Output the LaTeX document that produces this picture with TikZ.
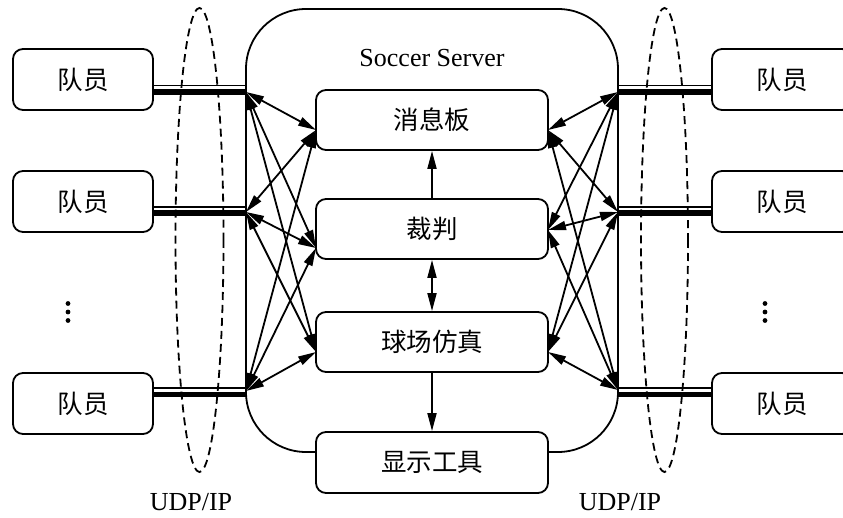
\documentclass[tikz,border=0pt]{standalone}
\usepackage{fontspec}
\setmainfont{Liberation Serif}
\newfontfamily\cjk{Noto Sans CJK SC}
\usetikzlibrary{arrows.meta,calc}
\begin{document}
\begin{tikzpicture}[x=1pt,y=-1pt,
  box/.style={draw,line width=1.8pt,rounded corners=10pt,minimum width=140pt,minimum height=61pt,
    font=\cjk\fontsize{25.5}{25.5}\selectfont,fill=white,inner sep=0pt},
  inbox/.style={box,minimum width=232pt,minimum height=60pt},
  lbl/.style={font=\fontsize{26}{26}\selectfont,inner sep=0pt},
  arr/.style={line width=1.8pt,{Triangle[length=18pt,width=9pt]}-{Triangle[length=18pt,width=9pt]}},
  arrone/.style={line width=1.8pt,-{Triangle[length=18pt,width=9pt]}},
  thinlink/.style={line width=1.8pt},
  thicklink/.style={line width=5.5pt},
  udp/.style={line width=1.8pt,dash pattern=on 8pt off 5pt},
  dotmark/.style={fill=black}
]
\useasboundingbox (0,0) rectangle (843,518);
\clip (0,0) rectangle (843,518);

% server outline
\node[draw,line width=1.8pt,rounded corners=60pt,minimum width=372pt,minimum height=443pt,inner sep=0pt] (server) at (432,230.5) {};
\node[lbl] (title) at (432,58) {Soccer Server};

% inner boxes
\node[inbox] (msg) at (432,120) {消息板};
\node[inbox] (judge) at (432,229) {裁判};
\node[inbox] (field) at (432,342) {球场仿真};
\node[inbox,minimum height=61pt] (disp) at (432,462.5) {显示工具};

\draw[arrone] (judge.north) -- (msg.south);
\draw[arr] (judge.south) -- (field.north);
\draw[arrone] (field.south) -- (disp.north);

% convergence points
\coordinate (mL) at (316,130);
\coordinate (jL) at (316,248);
\coordinate (fL) at (316,352);
\coordinate (mR) at (548,130);
\coordinate (jR) at (548,230);
\coordinate (fR) at (548,352);
% ports
\coordinate (pL1) at (246,92);
\coordinate (pL2) at (246,212);
\coordinate (pL3) at (246,391);
\coordinate (pR1) at (618,92);
\coordinate (pR2) at (618,212);
\coordinate (pR3) at (618,390);

\foreach \p in {pL1,pL2,pL3}{
  \foreach \t in {mL,jL,fL}{
    \draw[arr] (\p) -- (\t);
  }
}
\foreach \p in {pR1,pR2,pR3}{
  \foreach \t in {mR,jR,fR}{
    \draw[arr] (\p) -- (\t);
  }
}

% players
\node[box] (a1) at (83,79.5) {队员};
\node[box] (a2) at (83,201.5) {队员};
\node[box] (a3) at (83,403.5) {队员};
\node[box] (b1) at (782,79.5) {队员};
\node[box] (b2) at (782,201.5) {队员};
\node[box] (b3) at (782,403.5) {队员};

% links
\coordinate (tL1) at (246,85.5);  \coordinate (kL1) at (246,92);
\coordinate (tL2) at (246,206.7); \coordinate (kL2) at (246,213);
\coordinate (tL3) at (246,388);   \coordinate (kL3) at (246,394.5);
\coordinate (tR1) at (618,85.5);  \coordinate (kR1) at (618,92);
\coordinate (tR2) at (618,206.7); \coordinate (kR2) at (618,213);
\coordinate (tR3) at (618,388);   \coordinate (kR3) at (618,394.5);
\foreach \n/\s in {1/a,2/a,3/a}{
  \draw[thinlink] (tL\n) -- (tL\n -| \s\n.east);
  \draw[thicklink] (kL\n) -- (kL\n -| \s\n.east);
}
\foreach \n/\s in {1/b,2/b,3/b}{
  \draw[thinlink] (tR\n) -- (tR\n -| \s\n.west);
  \draw[thicklink] (kR\n) -- (kR\n -| \s\n.west);
}

% UDP/IP ellipses
\draw[udp] (199.5,240) ellipse [x radius=24, y radius=232];
\draw[udp] (664.5,240) ellipse [x radius=23.5, y radius=232];
\node[lbl] (udpL) at (191,502) {UDP/IP};
\node[lbl] (udpR) at (620,502) {UDP/IP};

% vertical dots
\foreach \y in {303.5,312,320.5}{
  \fill[dotmark] (68,\y) circle (2.4pt);
  \fill[dotmark] (765,\y) circle (2.4pt);
}
\end{tikzpicture}
\end{document}
